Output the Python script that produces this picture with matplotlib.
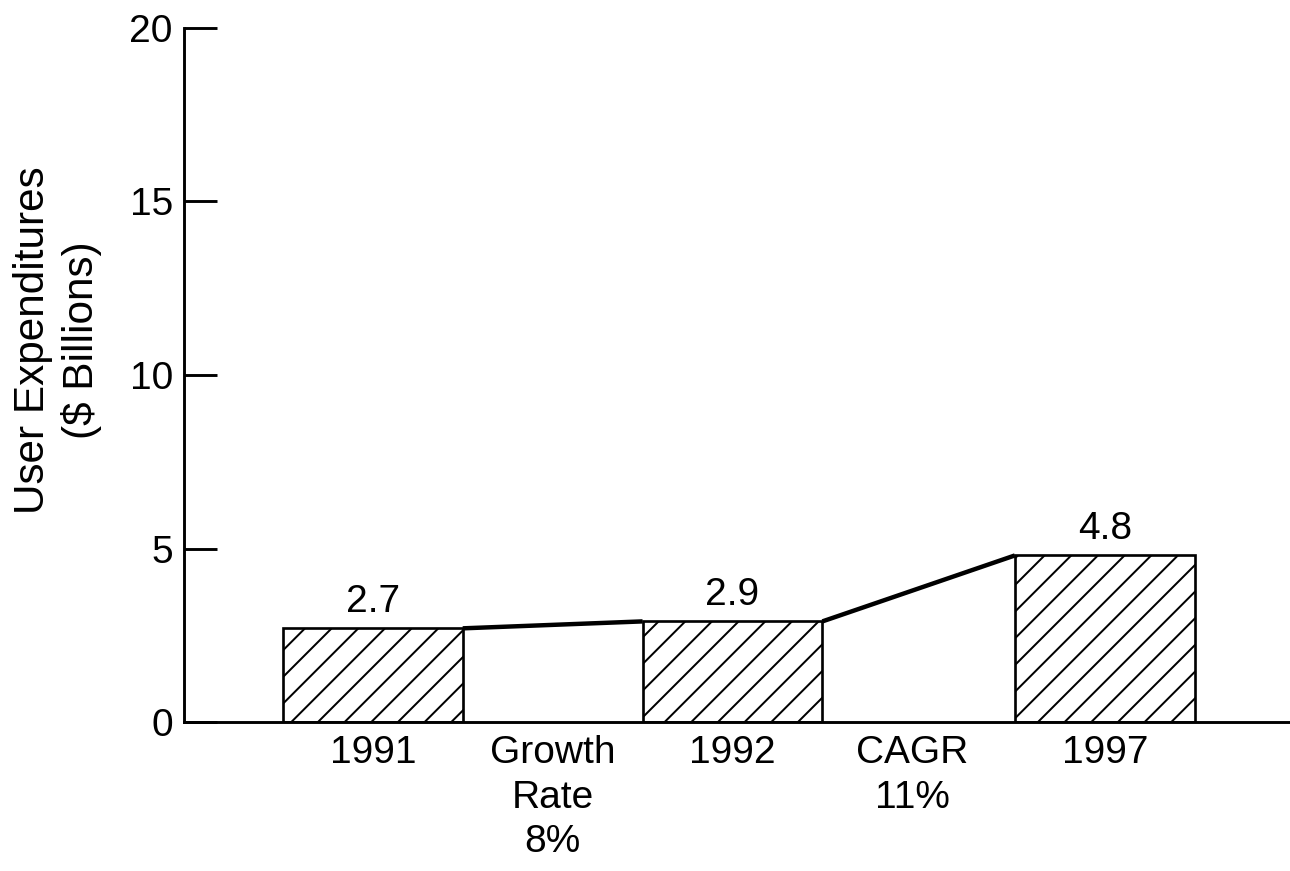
import matplotlib
matplotlib.use("Agg")
import matplotlib.pyplot as plt

# Data
categories = ["1991", "Growth\nRate\n8%", "1992", "CAGR\n11%", "1997"]
cat_pos = [0, 1, 2, 3, 4.07]
bar_years = ["1991", "1992", "1997"]
bar_pos = [0, 2, 4.07]
bar_values = [2.7, 2.9, 4.8]
y_ticks = [0, 5, 10, 15, 20]

plt.rcParams["font.family"] = ["Liberation Sans", "DejaVu Sans"]
plt.rcParams["hatch.linewidth"] = 0.9

DPI = 160
fig = plt.figure(figsize=(1290 / DPI, 871 / DPI), dpi=DPI)
ax = fig.add_axes([0.1426, 0.171, 0.8574, 0.797])

fs = 17.5
width = 1.0

ax.bar(bar_pos, bar_values, width=width, color="white", edgecolor="black",
       linewidth=1.2, hatch="//", zorder=2)

# lines joining the tops of neighbouring bars
for i in range(len(bar_pos) - 1):
    ax.plot([bar_pos[i] + width / 2, bar_pos[i + 1] - width / 2],
            [bar_values[i], bar_values[i + 1]],
            color="black", lw=2.0, solid_capstyle="butt", zorder=3)

for x, v in zip(bar_pos, bar_values):
    ax.text(x, v + 0.25, f"{v:.1f}", ha="center", va="bottom", fontsize=fs)

ax.set_xlim(-1.05, 5.1)
ax.set_ylim(0, 20)
ax.set_yticks(y_ticks)
ax.set_yticklabels([str(t) for t in y_ticks], fontsize=fs)
ax.set_xticks(cat_pos)
ax.set_xticklabels(categories, fontsize=fs, linespacing=1.3, va="top")

ax.tick_params(axis="y", direction="in", length=15, width=1.3, pad=5)
ax.tick_params(axis="x", length=0, pad=6)

for s in ["top", "right"]:
    ax.spines[s].set_visible(False)
ax.spines["left"].set_linewidth(1.3)
ax.spines["bottom"].set_linewidth(1.3)

ax.set_ylabel("User Expenditures\n($ Billions)", fontsize=19, linespacing=1.25)
ax.yaxis.set_label_coords(-0.074, 0.55)

fig.savefig("out.png", dpi=DPI, facecolor="white")
